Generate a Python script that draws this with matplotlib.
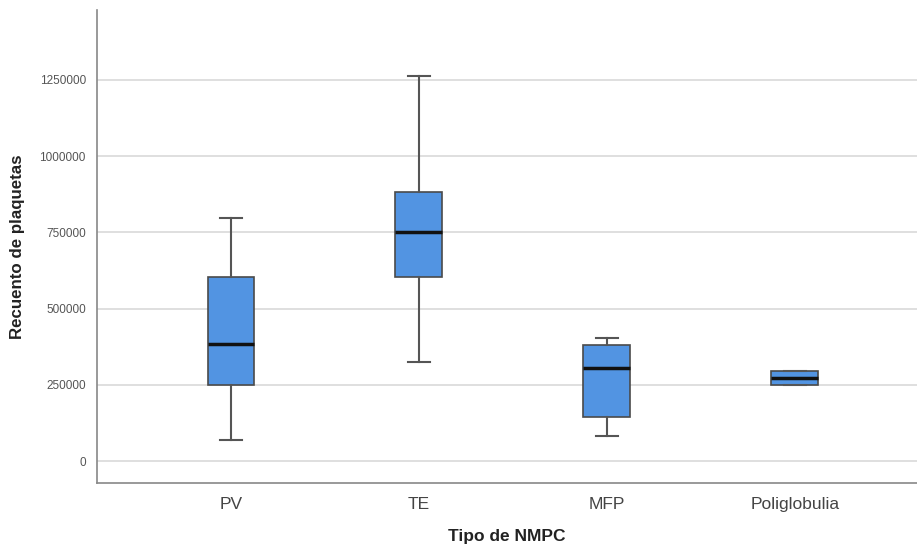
import matplotlib
matplotlib.use("Agg")
import matplotlib.pyplot as plt

plt.rcParams["font.family"] = ["Liberation Sans", "DejaVu Sans"]

categories = ["PV", "TE", "MFP", "Poliglobulia"]
whislo = [69000, 325000, 82000, 249000]
q1 = [249000, 604000, 144000, 249000]
med = [384000, 751000, 305000, 272000]
q3 = [604000, 882000, 381000, 295000]
whishi = [797000, 1263000, 403000, 295000]
yticks = [0, 250000, 500000, 750000, 1000000, 1250000]

fig = plt.figure(figsize=(9.17, 5.5), dpi=100)
ax = fig.add_axes([97/917, 67/550, 1 - 97/917, (483-10)/550])

stats = []
for i, c in enumerate(categories):
    stats.append(dict(label=c, whislo=whislo[i], q1=q1[i], med=med[i],
                      q3=q3[i], whishi=whishi[i], fliers=[]))

ax.bxp(stats, positions=range(len(categories)), widths=0.25, patch_artist=True,
       showfliers=False,
       boxprops=dict(facecolor="#5294e2", edgecolor="#4a4a4a", linewidth=1.2),
       medianprops=dict(color="#111111", linewidth=2.5),
       whiskerprops=dict(color="#555555", linewidth=1.5),
       capprops=dict(color="#555555", linewidth=1.5),
       capwidths=0.12, zorder=3)

ax.set_xlim(-0.713, 3.65)
ax.set_ylim(-72000, 1479000)
ax.set_yticks(yticks)
ax.set_yticklabels([str(v) for v in yticks], fontsize=8.5, color="#555555")
ax.tick_params(axis="y", length=0, pad=8)
ax.tick_params(axis="x", length=0, pad=10, labelsize=12.5, labelcolor="#444444")
ax.grid(axis="y", color="#d9d9d9", linewidth=1.2, zorder=0)
ax.set_axisbelow(True)
for s in ["top", "right"]:
    ax.spines[s].set_visible(False)
for s in ["left", "bottom"]:
    ax.spines[s].set_color("#888888")
    ax.spines[s].set_linewidth(1.2)

ax.set_xlabel("Tipo de NMPC", fontsize=12.5, fontweight="bold", color="#222222")
ax.set_ylabel("Recuento de plaquetas", fontsize=12.2, fontweight="bold", color="#222222")
ax.xaxis.set_label_coords(0.5, (483 - 537) / 473, transform=ax.transAxes)
ax.xaxis.label.set_va("center")
ax.yaxis.set_label_coords((18 - 97) / 820, 0.5, transform=ax.transAxes)
ax.yaxis.label.set_va("center")

fig.savefig("out.png", dpi=100)
